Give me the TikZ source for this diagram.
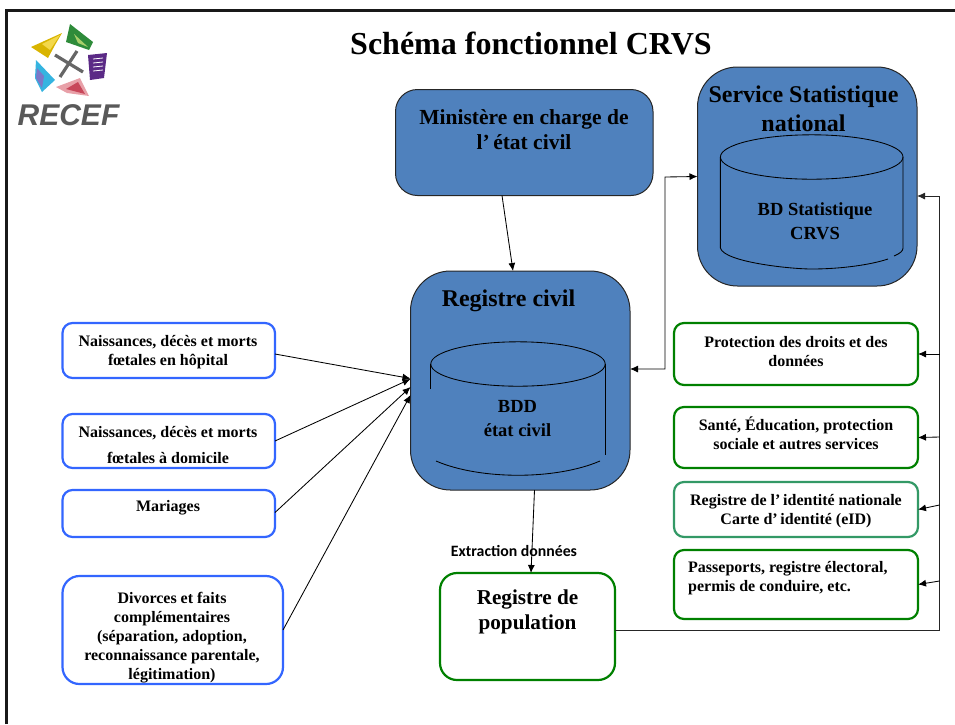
\documentclass[tikz,border=0pt]{standalone}
\usepackage{fontspec}
\setmainfont{Liberation Serif}
\newfontfamily\logofont{Liberation Sans}
\newfontfamily\labelfont{Carlito}
\usetikzlibrary{arrows.meta,calc}
\definecolor{blockblue}{HTML}{4F81BD}
\definecolor{edgeblue}{HTML}{3366FF}
\definecolor{edgegreen}{HTML}{008000}
\definecolor{edgeteal}{HTML}{339966}
\definecolor{logogold}{HTML}{D9B400}
\definecolor{logolight}{HTML}{F3D84A}
\definecolor{logogreen}{HTML}{2E8B3A}
\definecolor{logolime}{HTML}{A8CF6A}
\definecolor{logopurple}{HTML}{5B2A86}
\definecolor{logopink}{HTML}{E8A0A8}
\definecolor{logored}{HTML}{C8475A}
\definecolor{logocyan}{HTML}{35B4E0}
\definecolor{logoviolet}{HTML}{7A78C8}
\tikzset{
  x=1pt,y=-1pt,
  block/.style={draw=black!85,fill=blockblue,line width=1pt,inner sep=0pt,outer sep=0pt},
  srcbox/.style={draw=edgeblue,fill=white,line width=2.2pt,rounded corners=10pt,inner sep=0pt,outer sep=0pt},
  usebox/.style={draw=edgegreen,fill=white,line width=2.2pt,rounded corners=10pt,inner sep=0pt,outer sep=0pt},
  flow/.style={draw=black,line width=.85pt,-{Latex[length=8pt,width=7pt]}},
  bothflow/.style={draw=black,line width=.85pt,{Latex[length=8pt,width=7pt]}-{Latex[length=8pt,width=7pt]}},
  cyl/.style={draw=black,line width=.85pt},
  small/.style={font=\bfseries\fontsize{16}{19}\selectfont,align=center,inner sep=0pt},
  mid/.style={font=\bfseries\fontsize{18.5}{24}\selectfont,align=center,inner sep=0pt},
  big/.style={font=\bfseries\fontsize{21.5}{25}\selectfont,align=center,inner sep=0pt},
}
\begin{document}
\begin{tikzpicture}
\useasboundingbox (0,0) rectangle (955,724);
% page frame
\draw[line width=2.4pt,black!90] (6.5,724) -- (6.5,10.5) -- (955,10.5);

% logo
\fill[logogold] (31,47) -- (62,33) -- (55,45) -- (48,58) -- cycle;
\fill[logolight] (42,44) -- (60,35) -- (50,50) -- cycle;
\fill[logogreen] (70,24) -- (93,42) -- (89,50) -- (66,42) -- cycle;
\fill[logolime] (74,34) -- (88,47) -- (78,43) -- cycle;
\fill[logopurple] (88,55) -- (107,53) -- (104,78) -- (90,80) -- cycle;
\foreach \yy in {59,63,67,71} \draw[white,line width=.8pt] (93,\yy) -- (103,\yy-1);
\fill[logopink] (56,87) -- (80,78) -- (89,96) -- (67,93) -- cycle;
\fill[logored] (66,89) -- (78,82) -- (85,94) -- cycle;
\fill[logocyan] (36,60) -- (55,80) -- (42,92) -- (35,78) -- cycle;
\fill[logoviolet] (37,68) -- (44,76) -- (42,88) -- (36,78) -- cycle;
\draw[black!60,line width=3.2pt] (55,55) -- (83,72);
\draw[black!60,line width=3.2pt] (77,51) -- (60,77);
\node[font=\logofont\bfseries\itshape\fontsize{30}{30}\selectfont,text=black!65,inner sep=0pt] (logotext) at (68.5,115) {RECEF};

% title
\node[font=\bfseries\fontsize{32}{36}\selectfont,inner sep=0pt] (title) at (531,43) {Schéma fonctionnel CRVS};

% main blocks
\node[block,rounded corners=22pt,minimum width=257.5pt,minimum height=106pt] (min) at (524.25,142.5) {};
\node[block,rounded corners=40pt,minimum width=219.5pt,minimum height=219pt] (rc) at (520.25,380.5) {};
\node[block,rounded corners=40pt,minimum width=219.5pt,minimum height=219pt] (sn) at (807.25,176.5) {};

% cylinders
\coordinate (rcyl) at (518,364);
\draw[cyl] (rcyl) ellipse [x radius=87.2pt,y radius=22.2pt];
\draw[cyl] (430.8,364) -- (430.8,389);
\draw[cyl] (605.2,364) -- (605.2,455);
\draw[cyl] (436,461) .. controls (480,480) and (556,480) .. (600,461);

\coordinate (scyl) at (811.7,157);
\draw[cyl] (scyl) ellipse [x radius=91.3pt,y radius=22.2pt];
\draw[cyl] (720.4,157) -- (720.4,248) .. controls (724,262) and (790,269) .. (811.7,269) .. controls (840,269) and (870,265) .. (888,259);
\draw[cyl] (894,256) .. controls (900,253.5) and (903,251) .. (903,248) -- (903,157);

% source boxes
\node[srcbox,minimum width=212.5pt,minimum height=55pt] (b1) at (168.75,350.5) {};
\node[srcbox,minimum width=212.5pt,minimum height=54pt] (b2) at (168.75,441) {};
\node[srcbox,minimum width=212.5pt,minimum height=47pt] (b3) at (168.75,513.5) {};
\node[srcbox,rounded corners=17pt,minimum width=220.5pt,minimum height=108pt] (b4) at (172.75,630) {};

% use boxes
\node[usebox,minimum width=244pt,minimum height=62pt] (u1) at (796,354) {};
\node[usebox,minimum width=244pt,minimum height=61pt] (u2) at (796,437.5) {};
\node[usebox,draw=edgeteal,minimum width=244pt,minimum height=55pt] (u3) at (796,509.5) {};
\node[usebox,minimum width=244pt,minimum height=69pt] (u4) at (796,584.5) {};
\node[usebox,rounded corners=17pt,minimum width=175pt,minimum height=107pt] (pop) at (527.5,626.5) {};

% texts
\node[small] (t1) at (168,352) {Naissances, décès et morts\\fœtales en hôpital};
\node[small,font=\bfseries\fontsize{16}{26.5}\selectfont] (t2) at (168,445) {Naissances, décès et morts\\fœtales à domicile};
\node[small] (t3) at (168,507.5) {Mariages};
\node[small] (t4) at (172,638) {Divorces et faits\\complémentaires\\(séparation, adoption,\\reconnaissance parentale,\\légitimation)};
\node[small] (t5) at (796,352) {Protection des droits et des\\données};
\node[small] (t6) at (796,433.5) {Santé, Éducation, protection\\sociale et autres services};
\node[small] (t7) at (796,511) {Registre de l’\,identité nationale\\Carte d’\,identité (eID)};
\node[small,align=left,anchor=west] (t8) at (688,578.5) {Passeports, registre électoral,\\permis de conduire, etc.};
\node[big] (t9) at (524,129.5) {Ministère en charge de\\l’\,état civil};
\node[big,font=\bfseries\fontsize{24}{28}\selectfont] (t10) at (508.5,301) {Registre civil};
\node[big,font=\bfseries\fontsize{24}{29}\selectfont] (t11) at (803.5,109) {Service Statistique\\national};
\node[mid] (t12) at (517.5,419) {BDD\\état civil};
\node[mid] (t13) at (815,221.5) {BD Statistique\\CRVS};
\node[big,font=\bfseries\fontsize{21.2}{25}\selectfont] (t14) at (527.5,612) {Registre de\\population};

% connectors
\draw[flow] ([yshift=-3.5pt]b1.east) -- ([yshift=2pt]rc.west);
\draw[flow] (b2.east) -- ([yshift=1.5pt]rc.west);
\draw[flow] ([yshift=1pt]b3.east) -- ([yshift=-6.5pt]rc.west);
\draw[flow] (b4.east) -- ([yshift=-14.5pt]rc.west);
\draw[flow] (min.south -| 502,195.5) -- (rc.north -| 513,271);
\coordinate (elbowa) at (665,369);
\coordinate (elbowb) at (665,177);
\draw[bothflow] ([yshift=11.5pt]rc.east) -- (elbowa) -- (elbowb) -- (sn.west);
\draw[flow] (rc.south -| 534.5,490) -- (pop.north -| 531,573);
\node[font=\labelfont\bfseries\fontsize{15.8}{18}\selectfont,inner sep=0pt] (extr) at (514,551) {Extraction données};
\coordinate (trunkbot) at (939.5,630);
\coordinate (trunktop) at (939.5,196);
\draw[flow,draw=black!85] (pop.east |- trunkbot) -- (trunkbot) -- (trunktop) -- (sn.east |- trunktop);
\coordinate (f1) at (939.5,354);
\coordinate (f2) at (939.5,437);
\coordinate (f3) at (939.5,505);
\coordinate (f4) at (939.5,581);
\draw[flow] (f1) -- (u1.east);
\draw[flow] (f2) -- (u2.east);
\draw[flow] (f3) -- (u3.east);
\draw[flow] (f4) -- (u4.east);
\end{tikzpicture}
\end{document}
